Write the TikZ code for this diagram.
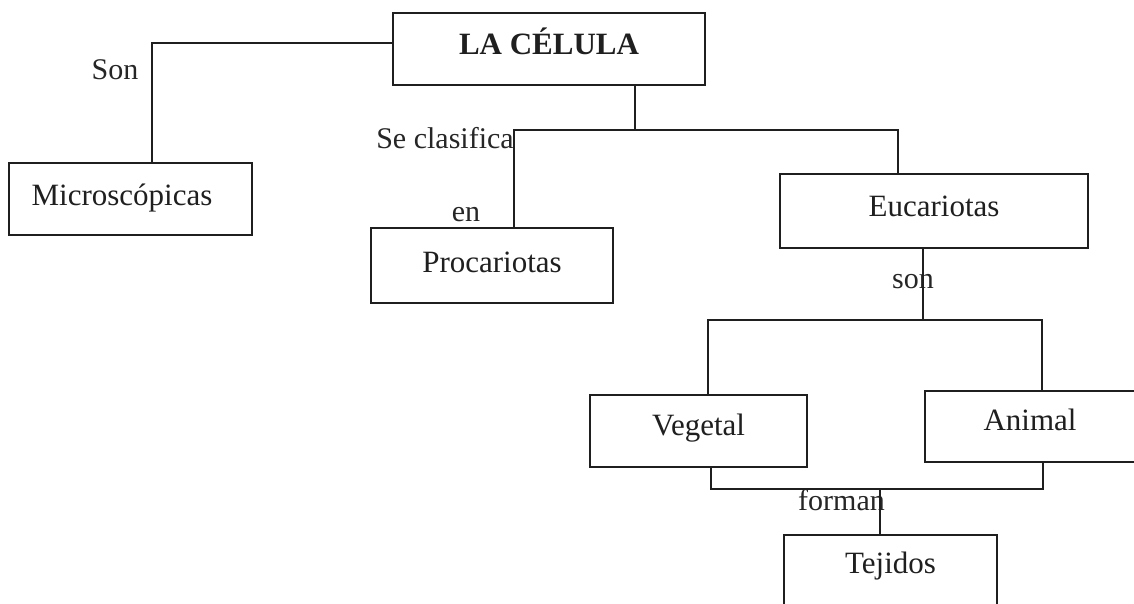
\documentclass[tikz,border=0pt]{standalone}
\usepackage{fontspec}
\setmainfont{Liberation Serif}
\begin{document}
\begin{tikzpicture}[x=1pt,y=-1pt,
  line/.style={line width=1.3pt,draw=black!88},
  cbox/.style={line, inner sep=0pt, anchor=base, font=\fontsize{31}{36}\selectfont, text=black!88},
  lbl/.style={inner sep=0pt, anchor=base, font=\fontsize{30}{35}\selectfont, text=black!85}]
\useasboundingbox (0,0) rectangle (1134,603);
\fill[white] (0,0) rectangle (1134,603);
\clip (0,0) rectangle (1134,603);
% boxes (anchor base = text baseline)
\node[cbox, minimum width=312pt, text height=41pt, text depth=31pt, font=\fontsize{31}{36}\selectfont\bfseries] (cel) at (549,54) {LA CÉLULA};
\node[cbox, minimum width=243pt, text height=42pt, text depth=30pt] (mic) at (130.5,205) {Microscópicas\hspace*{17pt}};
\node[cbox, minimum width=242pt, text height=44pt, text depth=31pt] (pro) at (492,272) {Procariotas};
\node[cbox, minimum width=308pt, text height=42pt, text depth=32pt] (euc) at (934,216) {Eucariotas};
\node[cbox, minimum width=217pt, text height=40pt, text depth=32pt] (veg) at (698.5,435) {Vegetal};
\node[cbox, minimum width=210pt, text height=39pt, text depth=32pt] (ani) at (1030,430) {Animal};
\node[cbox, minimum width=213pt, text height=38pt, text depth=90pt] (tej) at (890.5,573) {Tejidos};
% labels
\node[lbl] (lson) at (115,79) {Son};
\node[lbl] (lclas) at (445,148) {Se clasifica};
\node[lbl] (len) at (466,221) {en};
\node[lbl] (lson2) at (913,288) {son};
\node[lbl] (lform) at (841.5,510) {forman};
% junction coordinates
\coordinate (j1) at (152,43);
\coordinate (j2) at (635,130);
\coordinate (jl) at (514,130);
\coordinate (jr) at (898,130);
\coordinate (k1) at (923,320);
\coordinate (kl) at (708,320);
\coordinate (kr) at (1042,320);
\coordinate (m1) at (880,489);
\coordinate (ml) at (711,489);
\coordinate (mr) at (1043,489);
% connectors
\draw[line] (cel.west |- j1) -- (j1) -- (mic.north -| j1);
\draw[line] (cel.south -| j2) -- (j2);
\draw[line] (pro.north -| jl) -- (jl) -- (jr) -- (euc.north -| jr);
\draw[line] (euc.south -| k1) -- (k1);
\draw[line] (veg.north -| kl) -- (kl) -- (kr) -- (ani.north -| kr);
\draw[line] (veg.south -| ml) -- (ml) -- (mr) -- (ani.south -| mr);
\draw[line] (m1) -- (tej.north -| m1);
\end{tikzpicture}
\end{document}
